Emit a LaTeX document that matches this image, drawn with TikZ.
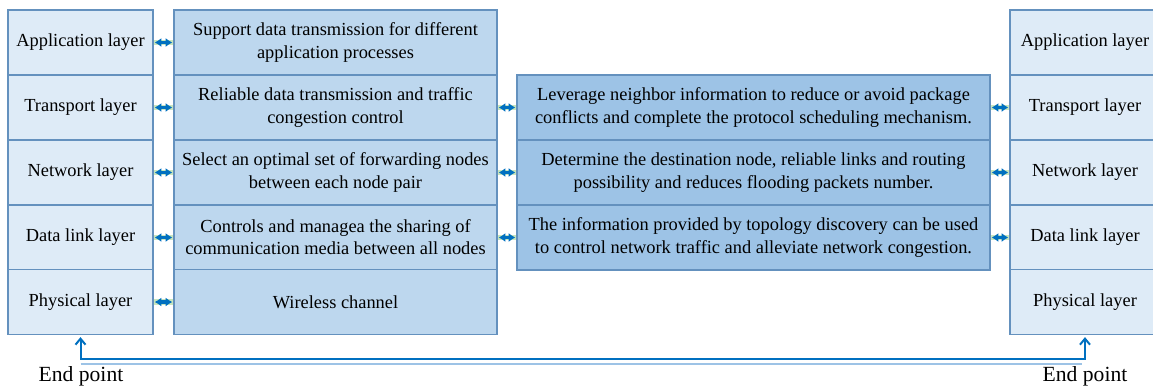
\documentclass[tikz,border=0pt]{standalone}
\usepackage{fontspec}
\setmainfont{Liberation Serif}
\usetikzlibrary{arrows.meta,calc}
\definecolor{bordc}{RGB}{100,145,190}
\definecolor{fillL}{RGB}{222,235,247}
\definecolor{fillM}{RGB}{189,215,238}
\definecolor{fillR}{RGB}{157,195,230}
\definecolor{arrc}{RGB}{0,112,192}
\definecolor{glowc}{RGB}{200,230,190}
\begin{document}
\begin{tikzpicture}[x=0.5pt,y=-0.5pt,
  layer/.style={draw=bordc,line width=0.6pt,fill=fillL,minimum width=72.5pt,minimum height=32.5pt,inner sep=0pt,font=\fontsize{9.2}{11.1}\selectfont,align=center},
  rlayer/.style={layer,minimum width=75pt},
  midbox/.style={draw=bordc,line width=0.6pt,fill=fillM,minimum width=161.5pt,minimum height=32.5pt,inner sep=0pt,font=\fontsize{9.2}{11.1}\selectfont,align=center},
  rightbox/.style={midbox,fill=fillR,minimum width=236.5pt},
  dblarrow/.style={{Latex[length=3.4pt,width=4.6pt]}-{Latex[length=3.4pt,width=4.6pt]},draw=arrc,line width=1.8pt,shorten <=0.5pt,shorten >=0.5pt,
    preaction={draw=glowc,line width=2.6pt,shorten <=0.2pt,shorten >=0.2pt,-}},
  endarrow/.style={{Straight Barb[length=3pt,width=5pt]}-{Straight Barb[length=3pt,width=5pt]},draw=arrc,line width=1pt},
  lightline/.style={draw=fillR,line width=0.8pt},
  endlabel/.style={font=\fontsize{10.8}{12}\selectfont,inner sep=0pt}
]
\useasboundingbox (0,0) rectangle (1153,388);
\begin{scope}
\clip (0,0) rectangle (1153,388);
% left column
\node[layer] (la) at (80.5,42.5) {Application layer};
\node[layer] (lt) at (80.5,107.5) {Transport layer};
\node[layer] (ln) at (80.5,172.5) {Network layer};
\node[layer] (ld) at (80.5,237.5) {Data link layer};
\node[layer] (lp) at (80.5,302) {Physical layer};
% middle-left column
\node[midbox] (ma) at (335.5,42.5) {Support data transmission for different\\application processes};
\node[midbox] (mt) at (335.5,107.5) {Reliable data transmission and traffic\\congestion control};
\node[midbox] (mn) at (335.5,172.5) {Select an optimal set of forwarding nodes\\between each node pair};
\node[midbox] (md) at (335.5,237.5) {Controls and managea the sharing of\\communication media between all nodes};
\node[midbox] (mp) at (335.5,302) {Wireless channel};
% middle-right column
\node[rightbox] (rt) at (753.5,107.5) {Leverage neighbor information to reduce or avoid package\\conflicts and complete the protocol scheduling mechanism.};
\node[rightbox] (rn) at (753.5,172.5) {Determine the destination node, reliable links and routing\\possibility and reduces flooding packets number.};
\node[rightbox] (rd) at (753.5,237.5) {The information provided by topology discovery can be used\\to control network traffic and alleviate network congestion.};
% right column
\node[rlayer] (pa) at (1085,42.5) {Application layer};
\node[rlayer] (pt) at (1085,107.5) {Transport layer};
\node[rlayer] (pn) at (1085,172.5) {Network layer};
\node[rlayer] (pd) at (1085,237.5) {Data link layer};
\node[rlayer] (pp) at (1085,302) {Physical layer};
\end{scope}
% arrows left <-> middle
\foreach \a/\b in {la/ma,lt/mt,ln/mn,ld/md,lp/mp}{\draw[dblarrow] (\a.east) -- (\b.west);}
\foreach \a/\b in {mt/rt,mn/rn,md/rd}{\draw[dblarrow] (\a.east) -- (\b.west);}
\foreach \a/\b in {rt/pt,rn/pn,rd/pd}{\draw[dblarrow] (\a.east) -- (\b.west);}
% bottom connector
\draw[lightline] ($(lp.south)+(0,29)$) -- ($(pp.south)+(-3,29)$);
\draw[endarrow] ([yshift=-1pt]lp.south) -- ++(0,22) -| ([yshift=-1pt]pp.south);
\node[endlabel] (e1) at (81,376) {End point};
\node[endlabel] (e2) at (1085,376) {End point};
\end{tikzpicture}
\end{document}
